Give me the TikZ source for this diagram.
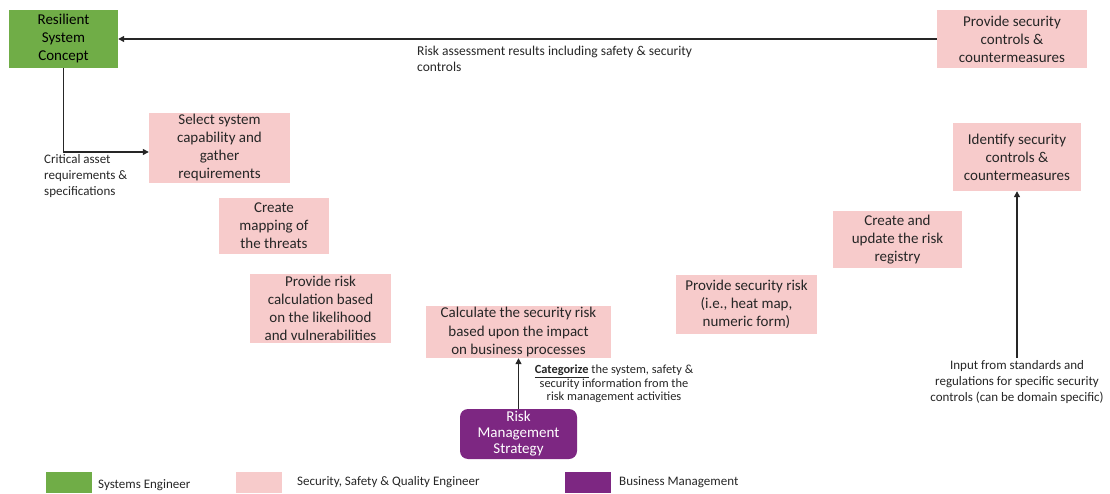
\documentclass[tikz,border=0pt]{standalone}
\usepackage{fontspec}
\setmainfont{Carlito}
\usetikzlibrary{arrows.meta}
\definecolor{segreen}{HTML}{70AD47}
\definecolor{sqpink}{HTML}{F7CBCB}
\definecolor{bmpurple}{HTML}{7D2782}
\begin{document}
\begin{tikzpicture}[x=1pt,y=-1pt,
  box/.style={rectangle, inner sep=0pt, align=center, font=\fontsize{15}{18}\selectfont, text=black!85},
  pinkbox/.style={box, fill=sqpink},
  greenbox/.style={box, fill=segreen, text=black},
  purplebox/.style={box, fill=bmpurple, rounded corners=8pt, text=white, font=\fontsize{15}{16}\selectfont},
  flow/.style={draw=black!85, line width=1.2pt, -{Triangle[length=6pt,width=6pt]}},
  lbl/.style={inner sep=0pt, text=black!85, font=\fontsize{13.5}{16}\selectfont},
  smalllbl/.style={inner sep=0pt, text=black!85, align=center, font=\fontsize{12.4}{13.5}\selectfont},
  legtext/.style={inner sep=0pt, anchor=west, text=black!85, font=\fontsize{13}{15}\selectfont}
]
\useasboundingbox (0,0) rectangle (1110,494);

% Process steps
\node[greenbox, minimum width=109, minimum height=58] (concept) at (63.5,39) {Resilient\\System\\Concept};
\node[pinkbox, minimum width=150, minimum height=58] (provide) at (1012,39) {Provide security\\controls \&\\countermeasures};
\node[pinkbox, minimum width=141, minimum height=70] (select) at (219.5,148) {Select system\\capability and\\gather\\requirements};
\node[pinkbox, minimum width=110, minimum height=56] (mapping) at (274,226) {Create\\mapping of\\the threats};
\node[pinkbox, minimum width=141, minimum height=69] (riskcalc) at (320.5,308.5) {Provide risk\\calculation based\\on the likelihood\\and vulnerabilities};
\node[pinkbox, minimum width=185, minimum height=52] (impact) at (518.5,332) {Calculate the security risk\\based upon the impact\\on business processes};
\node[purplebox, minimum width=117, minimum height=50] (strategy) at (518.5,434) {Risk\\Management\\Strategy};
\node[pinkbox, minimum width=141, minimum height=59] (heatmap) at (746.5,304.5) {Provide security risk\\(i.e., heat map,\\numeric form)};
\node[pinkbox, minimum width=129, minimum height=57] (registry) at (897.5,239.5) {Create and\\update the risk\\registry};
\node[pinkbox, minimum width=128, minimum height=68] (identify) at (1017,157) {Identify security\\controls \&\\countermeasures};

% Connectors
\draw[flow] (provide.west) -- (concept.east);
\draw[flow] (concept.south) |- ([yshift=-4pt]select.west);
\draw[flow] (strategy.north) -- (impact.south);
\coordinate (stdin) at (1017,358);
\draw[flow] (stdin) -- (identify.south);

% Connector labels
\node[lbl, anchor=north west, align=left] (resultslbl) at (417,46) {Risk assessment results including safety \& security\\controls};
\node[lbl, font=\fontsize{13}{16}\selectfont, anchor=north west, align=left] (assetlbl) at (44,154) {Critical asset\\requirements \&\\specifications};
\node[smalllbl, anchor=north] (catlbl) at (614,365) {\underline{\textbf{Categorize}} the system, safety \&\\security information from the\\risk management activities};
\node[smalllbl, anchor=north, font=\fontsize{13}{16}\selectfont] (stdlbl) at (1017,360) {Input from standards and\\regulations for specific security\\controls (can be domain specific)};

% Legend
\fill[segreen] (46,472) rectangle (92,493);
\node[legtext] (leg1) at (98,485) {Systems Engineer};
\fill[sqpink] (236,472) rectangle (282,493);
\node[legtext] (leg2) at (297,482) {Security, Safety \& Quality Engineer};
\fill[bmpurple] (565,472) rectangle (611,493);
\node[legtext] (leg3) at (619,482) {Business Management};
\end{tikzpicture}
\end{document}
